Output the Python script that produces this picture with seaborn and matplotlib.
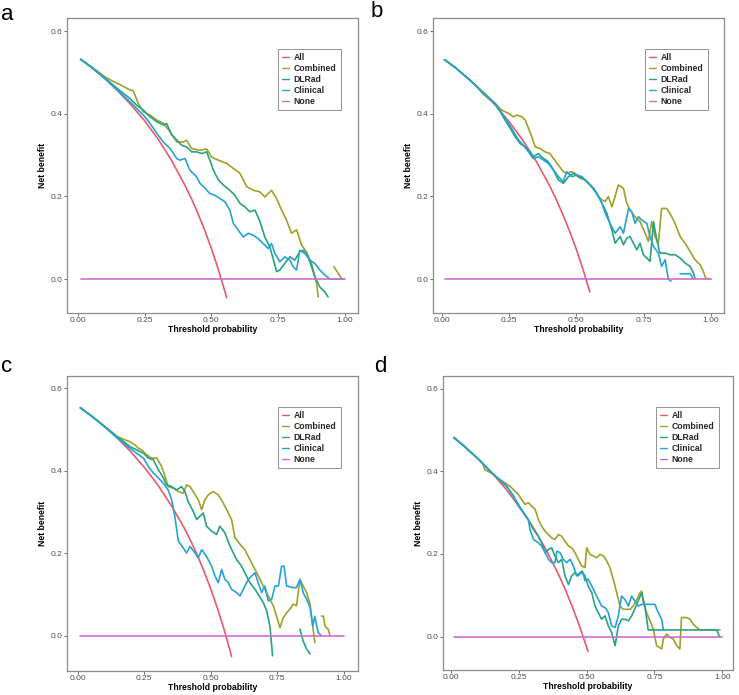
import numpy as np
import pandas as pd
import matplotlib
matplotlib.use("Agg")
import matplotlib.pyplot as plt
from matplotlib.lines import Line2D
import seaborn as sns

sns.set_theme(style="white")
plt.rcParams['font.family'] = ['Liberation Sans', 'DejaVu Sans']

nan = np.nan
MODELS = ["All", "Combined", "DLRad", "Clinical", "None"]
COLORS = ["#E65A6C", "#A0A02A", "#27A383", "#25A3D6", "#CE6DCF"]

# ---------------- panel a ----------------
a_all_x = [0.01, 0.05, 0.10, 0.15, 0.20, 0.25, 0.30, 0.35, 0.40, 0.425, 0.45, 0.475, 0.50, 0.525, 0.55, 0.557]
a_all_y = [0.532, 0.513, 0.486, 0.455, 0.421, 0.383, 0.339, 0.288, 0.228, 0.195, 0.158, 0.118, 0.074, 0.025, -0.029, -0.045]
a_comb_x = [0.01, 0.05, 0.08, 0.10, 0.13, 0.16, 0.18, 0.195, 0.207, 0.226, 0.245, 0.270, 0.295, 0.320, 0.345, 0.370,
            0.395, 0.407, 0.426, 0.457, 0.482, 0.501, 0.526, 0.557, 0.582, 0.607, 0.632, 0.657, 0.682, 0.700, 0.725,
            0.744, 0.763, 0.781, 0.800, 0.819, 0.838, 0.856, 0.875, 0.894, 0.900, 0.93, 0.959, 0.975, 0.987]
a_comb_y = [0.532, 0.514, 0.500, 0.490, 0.479, 0.470, 0.463, 0.458, 0.456, 0.425, 0.405, 0.397, 0.385, 0.377, 0.357, 0.332,
            0.332, 0.336, 0.316, 0.312, 0.315, 0.295, 0.288, 0.280, 0.268, 0.256, 0.224, 0.215, 0.211, 0.199, 0.215,
            0.195, 0.167, 0.143, 0.111, 0.119, 0.082, 0.066, 0.038, -0.010, -0.043, nan, 0.030, 0.014, 0.002]
a_dl_x = [0.01, 0.05, 0.10, 0.15, 0.195, 0.220, 0.245, 0.270, 0.295, 0.320, 0.332, 0.351, 0.370, 0.388, 0.407, 0.426,
          0.444, 0.463, 0.482, 0.494, 0.507, 0.526, 0.544, 0.569, 0.588, 0.607, 0.625, 0.644, 0.663, 0.682, 0.700,
          0.719, 0.731, 0.744, 0.756, 0.775, 0.794, 0.812, 0.831, 0.844, 0.862, 0.875, 0.887, 0.906, 0.925, 0.937]
a_dl_y = [0.532, 0.513, 0.487, 0.460, 0.437, 0.421, 0.409, 0.393, 0.381, 0.373, 0.377, 0.349, 0.337, 0.324, 0.320, 0.308,
          0.308, 0.304, 0.308, 0.288, 0.264, 0.240, 0.228, 0.215, 0.203, 0.183, 0.175, 0.163, 0.167, 0.139, 0.102,
          0.078, 0.050, 0.018, 0.022, 0.038, 0.054, 0.046, 0.066, 0.070, 0.054, 0.030, 0.006, -0.019, -0.031, -0.043]
a_cl_x = [0.01, 0.05, 0.10, 0.15, 0.195, 0.220, 0.245, 0.270, 0.295, 0.320, 0.345, 0.370, 0.382, 0.401, 0.419, 0.444,
          0.457, 0.476, 0.494, 0.513, 0.532, 0.551, 0.569, 0.582, 0.600, 0.619, 0.638, 0.657, 0.675, 0.694, 0.713,
          0.725, 0.738, 0.756, 0.775, 0.794, 0.806, 0.819, 0.831, 0.850, 0.869, 0.887, 0.906, 0.925, 0.944, 0.994]
a_cl_y = [0.532, 0.513, 0.486, 0.456, 0.429, 0.413, 0.397, 0.377, 0.353, 0.332, 0.316, 0.292, 0.288, 0.292, 0.264, 0.248,
          0.232, 0.220, 0.207, 0.203, 0.195, 0.187, 0.167, 0.135, 0.119, 0.102, 0.111, 0.106, 0.098, 0.086, 0.074,
          0.086, 0.062, 0.042, 0.054, 0.046, 0.030, 0.022, 0.070, 0.062, 0.046, 0.038, 0.022, 0.010, 0.0, 0.0]
a_none_x = [0.01, 1.0]
a_none_y = [0.0, 0.0]

# ---------------- panel b ----------------
b_all_x = [0.01, 0.05, 0.10, 0.15, 0.20, 0.25, 0.30, 0.35, 0.40, 0.425, 0.45, 0.475, 0.50, 0.525, 0.55]
b_all_y = [0.531, 0.512, 0.484, 0.454, 0.420, 0.381, 0.337, 0.286, 0.227, 0.193, 0.156, 0.116, 0.072, 0.023, -0.031]
b_comb_x = [0.01, 0.05, 0.10, 0.13, 0.15, 0.175, 0.198, 0.223, 0.248, 0.266, 0.279, 0.297, 0.310, 0.322, 0.334, 0.347,
            0.365, 0.384, 0.402, 0.415, 0.433, 0.452, 0.464, 0.483, 0.495, 0.514, 0.533, 0.551, 0.570, 0.582, 0.595,
            0.607, 0.619, 0.632, 0.644, 0.656, 0.675, 0.687, 0.700, 0.718, 0.737, 0.756, 0.768, 0.780, 0.793, 0.805,
            0.817, 0.836, 0.848, 0.867, 0.886, 0.904, 0.923, 0.941, 0.960, 0.972, 0.981, 1.0]
b_comb_y = [0.531, 0.512, 0.484, 0.466, 0.450, 0.436, 0.425, 0.409, 0.401, 0.393, 0.397, 0.393, 0.385, 0.365, 0.345, 0.320,
            0.316, 0.308, 0.304, 0.292, 0.276, 0.260, 0.256, 0.260, 0.256, 0.244, 0.240, 0.228, 0.212, 0.200, 0.192,
            0.188, 0.200, 0.175, 0.200, 0.228, 0.220, 0.184, 0.167, 0.151, 0.139, 0.111, 0.091, 0.139, 0.103, 0.087,
            0.171, 0.171, 0.159, 0.135, 0.103, 0.087, 0.067, 0.047, 0.035, 0.019, 0.002, 0.0]
b_dl_x = [0.01, 0.05, 0.10, 0.15, 0.198, 0.217, 0.235, 0.254, 0.272, 0.291, 0.310, 0.328, 0.340, 0.359, 0.378, 0.396,
          0.415, 0.433, 0.452, 0.471, 0.489, 0.508, 0.526, 0.545, 0.564, 0.582, 0.595, 0.613, 0.632, 0.644, 0.663,
          0.675, 0.687, 0.700, 0.712, 0.725, 0.737, 0.749, 0.762, 0.774, 0.787, 0.799, 0.811, 0.830, 0.848, 0.867,
          0.886, 0.904, 0.923, 0.935, 0.941]
b_dl_y = [0.531, 0.512, 0.484, 0.454, 0.425, 0.405, 0.385, 0.365, 0.345, 0.328, 0.320, 0.308, 0.296, 0.304, 0.292, 0.284,
          0.264, 0.240, 0.232, 0.248, 0.256, 0.248, 0.244, 0.232, 0.220, 0.200, 0.184, 0.160, 0.119, 0.087, 0.103,
          0.083, 0.099, 0.103, 0.087, 0.071, 0.087, 0.059, 0.051, 0.043, 0.139, 0.095, 0.063, 0.063, 0.059, 0.059,
          0.051, 0.039, 0.031, 0.015, 0.002]
b_cl_x = [0.01, 0.05, 0.10, 0.15, 0.198, 0.223, 0.248, 0.266, 0.285, 0.303, 0.322, 0.340, 0.359, 0.378, 0.396, 0.415,
          0.433, 0.452, 0.464, 0.483, 0.502, 0.520, 0.539, 0.557, 0.576, 0.595, 0.607, 0.625, 0.644, 0.663, 0.675,
          0.694, 0.706, 0.718, 0.731, 0.743, 0.762, 0.774, 0.787, 0.805, 0.817, 0.830, 0.842, 0.852, 0.87, 0.886,
          0.923, 0.935]
b_cl_y = [0.531, 0.512, 0.484, 0.454, 0.425, 0.401, 0.377, 0.357, 0.337, 0.324, 0.308, 0.292, 0.296, 0.288, 0.280, 0.264,
          0.248, 0.236, 0.260, 0.248, 0.252, 0.248, 0.236, 0.224, 0.208, 0.184, 0.160, 0.135, 0.111, 0.127, 0.111,
          0.171, 0.163, 0.135, 0.151, 0.143, 0.135, 0.103, 0.079, 0.063, 0.031, 0.047, 0.0, -0.005, nan, 0.013,
          0.013, 0.0]
b_none_x = [0.01, 1.0]
b_none_y = [0.0, 0.0]

# ---------------- panel c ----------------
c_all_x = [0.01, 0.05, 0.10, 0.15, 0.20, 0.25, 0.30, 0.35, 0.40, 0.425, 0.45, 0.475, 0.50, 0.525, 0.55, 0.575, 0.578]
c_all_y = [0.553, 0.534, 0.508, 0.479, 0.446, 0.409, 0.367, 0.318, 0.262, 0.230, 0.195, 0.156, 0.114, 0.067, 0.016, -0.042, -0.050]
c_comb_x = [0.01, 0.05, 0.10, 0.15, 0.175, 0.196, 0.215, 0.228, 0.240, 0.259, 0.278, 0.297, 0.315, 0.328, 0.340, 0.359,
            0.378, 0.397, 0.409, 0.422, 0.434, 0.453, 0.466, 0.478, 0.491, 0.509, 0.528, 0.547, 0.566, 0.578, 0.591,
            0.610, 0.628, 0.647, 0.666, 0.685, 0.697, 0.710, 0.722, 0.735, 0.747, 0.760, 0.772, 0.785, 0.797, 0.810,
            0.822, 0.835, 0.847, 0.860, 0.873, 0.883, 0.891, 0.90, 0.916, 0.923, 0.929, 0.941, 0.948]
c_comb_y = [0.553, 0.534, 0.509, 0.483, 0.476, 0.471, 0.463, 0.455, 0.451, 0.439, 0.431, 0.431, 0.411, 0.387, 0.362, 0.358,
            0.350, 0.346, 0.366, 0.362, 0.350, 0.330, 0.306, 0.330, 0.342, 0.350, 0.342, 0.322, 0.298, 0.282, 0.238,
            0.222, 0.209, 0.185, 0.161, 0.137, 0.121, 0.105, 0.089, 0.073, 0.048, 0.020, 0.044, 0.056, 0.065, 0.077,
            0.073, 0.137, 0.121, 0.105, 0.077, 0.024, -0.016, nan, 0.048, 0.048, 0.024, 0.016, 0.0]
c_dl_x = [0.01, 0.05, 0.10, 0.15, 0.175, 0.196, 0.221, 0.247, 0.265, 0.284, 0.303, 0.322, 0.334, 0.353, 0.372, 0.390,
          0.403, 0.415, 0.434, 0.447, 0.459, 0.472, 0.484, 0.503, 0.522, 0.534, 0.553, 0.572, 0.585, 0.597, 0.616,
          0.628, 0.647, 0.666, 0.678, 0.697, 0.710, 0.722, 0.729, 0.732, 0.78, 0.835, 0.847, 0.860, 0.873]
c_dl_y = [0.553, 0.534, 0.508, 0.481, 0.470, 0.459, 0.451, 0.443, 0.431, 0.427, 0.403, 0.383, 0.366, 0.362, 0.354, 0.362,
          0.350, 0.326, 0.302, 0.282, 0.290, 0.298, 0.266, 0.254, 0.246, 0.266, 0.250, 0.218, 0.201, 0.185, 0.169,
          0.153, 0.129, 0.113, 0.101, 0.081, 0.061, 0.024, -0.024, -0.048, nan, 0.016, -0.012, -0.032, -0.044]
c_cl_x = [0.01, 0.05, 0.10, 0.15, 0.175, 0.196, 0.221, 0.247, 0.265, 0.284, 0.303, 0.322, 0.340, 0.353, 0.365, 0.378,
          0.397, 0.409, 0.422, 0.441, 0.453, 0.466, 0.484, 0.503, 0.516, 0.528, 0.541, 0.553, 0.566, 0.578, 0.597,
          0.610, 0.628, 0.641, 0.653, 0.666, 0.678, 0.691, 0.703, 0.716, 0.729, 0.741, 0.754, 0.766, 0.775, 0.785,
          0.810, 0.822, 0.835, 0.847, 0.860, 0.873, 0.883, 0.891, 0.898, 0.904, 0.916]
c_cl_y = [0.553, 0.534, 0.508, 0.479, 0.466, 0.455, 0.443, 0.431, 0.411, 0.395, 0.383, 0.370, 0.354, 0.330, 0.290, 0.230,
          0.213, 0.201, 0.217, 0.201, 0.189, 0.209, 0.193, 0.169, 0.145, 0.129, 0.161, 0.137, 0.129, 0.113, 0.105,
          0.097, 0.121, 0.137, 0.145, 0.153, 0.129, 0.105, 0.121, 0.085, 0.089, 0.121, 0.121, 0.169, 0.169, 0.121,
          0.117, 0.117, 0.137, 0.105, 0.089, 0.069, 0.024, 0.048, 0.024, 0.008, 0.0]
c_none_x = [0.01, 1.0]
c_none_y = [0.0, 0.0]

# ---------------- panel d ----------------
d_all_x = [0.01, 0.05, 0.10, 0.15, 0.20, 0.25, 0.30, 0.35, 0.40, 0.425, 0.45, 0.475, 0.50, 0.505]
d_all_y = [0.482, 0.460, 0.430, 0.397, 0.359, 0.316, 0.267, 0.211, 0.145, 0.108, 0.067, 0.023, -0.026, -0.036]
d_comb_x = [0.01, 0.05, 0.10, 0.115, 0.125, 0.15, 0.165, 0.181, 0.199, 0.217, 0.236, 0.248, 0.260, 0.273, 0.285, 0.297,
            0.310, 0.316, 0.322, 0.334, 0.347, 0.359, 0.371, 0.383, 0.396, 0.408, 0.420, 0.433, 0.445, 0.457, 0.469,
            0.482, 0.494, 0.500, 0.512, 0.525, 0.537, 0.549, 0.562, 0.574, 0.586, 0.598, 0.611, 0.623, 0.635, 0.648,
            0.660, 0.672, 0.685, 0.697, 0.703, 0.709, 0.721, 0.734, 0.746, 0.758, 0.777, 0.783, 0.795, 0.807, 0.820,
            0.832, 0.844, 0.850, 0.869, 0.881, 0.893, 0.906, 0.918, 0.992]
d_comb_y = [0.482, 0.460, 0.430, 0.421, 0.404, 0.395, 0.387, 0.380, 0.372, 0.364, 0.352, 0.344, 0.332, 0.320, 0.324, 0.316,
            0.308, 0.296, 0.283, 0.267, 0.255, 0.247, 0.239, 0.235, 0.247, 0.243, 0.231, 0.219, 0.215, 0.203, 0.187,
            0.171, 0.167, 0.215, 0.199, 0.195, 0.191, 0.199, 0.195, 0.183, 0.167, 0.139, 0.106, 0.074, 0.066, 0.066,
            0.066, 0.074, 0.090, 0.106, 0.110, 0.082, 0.058, 0.038, 0.018, -0.022, -0.030, -0.006, 0.006, -0.002, -0.006,
            -0.022, -0.030, 0.046, 0.046, 0.042, 0.030, 0.022, 0.016, 0.016]
d_dl_x = [0.01, 0.05, 0.10, 0.15, 0.181, 0.205, 0.230, 0.248, 0.267, 0.285, 0.304, 0.322, 0.334, 0.347, 0.359, 0.371,
          0.383, 0.396, 0.408, 0.420, 0.433, 0.445, 0.457, 0.469, 0.482, 0.494, 0.506, 0.519, 0.531, 0.543, 0.555,
          0.568, 0.580, 0.592, 0.605, 0.617, 0.629, 0.641, 0.654, 0.666, 0.685, 0.703, 0.715, 0.727, 0.980, 0.990]
d_dl_y = [0.482, 0.460, 0.430, 0.397, 0.378, 0.364, 0.340, 0.320, 0.300, 0.283, 0.259, 0.243, 0.227, 0.203, 0.211, 0.215,
          0.195, 0.179, 0.187, 0.147, 0.126, 0.147, 0.155, 0.147, 0.159, 0.147, 0.122, 0.106, 0.074, 0.058, 0.042,
          0.050, 0.026, 0.010, -0.022, 0.026, 0.042, 0.042, 0.038, 0.050, 0.078, 0.106, 0.074, 0.016, 0.016, 0.0]
d_cl_x = [0.01, 0.05, 0.10, 0.15, 0.181, 0.205, 0.230, 0.248, 0.267, 0.285, 0.291, 0.304, 0.322, 0.334, 0.347, 0.359,
          0.371, 0.383, 0.390, 0.402, 0.414, 0.426, 0.439, 0.451, 0.463, 0.476, 0.488, 0.494, 0.506, 0.519, 0.531,
          0.543, 0.555, 0.568, 0.580, 0.592, 0.605, 0.617, 0.629, 0.641, 0.654, 0.666, 0.678, 0.691, 0.703, 0.752,
          0.764, 0.777, 0.783]
d_cl_y = [0.482, 0.460, 0.430, 0.397, 0.378, 0.364, 0.340, 0.316, 0.300, 0.283, 0.259, 0.235, 0.227, 0.219, 0.203, 0.187,
          0.179, 0.179, 0.207, 0.203, 0.187, 0.179, 0.187, 0.171, 0.147, 0.155, 0.151, 0.135, 0.139, 0.122, 0.106,
          0.090, 0.074, 0.070, 0.058, 0.026, 0.022, 0.050, 0.098, 0.090, 0.074, 0.098, 0.086, 0.074, 0.078, 0.078,
          0.058, 0.042, 0.016]
d_none_x = [0.01, 0.998]
d_none_y = [0.0, 0.0]

PANELS = {
    "a": [(a_all_x, a_all_y), (a_comb_x, a_comb_y), (a_dl_x, a_dl_y), (a_cl_x, a_cl_y), (a_none_x, a_none_y)],
    "b": [(b_all_x, b_all_y), (b_comb_x, b_comb_y), (b_dl_x, b_dl_y), (b_cl_x, b_cl_y), (b_none_x, b_none_y)],
    "c": [(c_all_x, c_all_y), (c_comb_x, c_comb_y), (c_dl_x, c_dl_y), (c_cl_x, c_cl_y), (c_none_x, c_none_y)],
    "d": [(d_all_x, d_all_y), (d_comb_x, d_comb_y), (d_dl_x, d_dl_y), (d_cl_x, d_cl_y), (d_none_x, d_none_y)],
}

W, H = 739, 695
fig = plt.figure(figsize=(W / 100, H / 100), dpi=100)

# axes boxes in pixels: left, top, right, bottom
BOX = {"a": (67, 18, 358, 313), "b": (433, 18, 724, 313),
       "c": (67, 376, 358, 671), "d": (443, 376, 733, 670)}
XLIM = {"a": (-0.041, 1.049), "b": (-0.033, 1.049), "c": (-0.040, 1.053), "d": (-0.030, 1.040)}
YLIM = {"a": (-0.082, 0.632), "b": (-0.082, 0.632), "c": (-0.085, 0.630), "d": (-0.081, 0.631)}
LETTER_POS = {"a": (1, 4), "b": (371, 1), "c": (1, 356), "d": (374, 356)}
LEG_POS = {"a": (278, 49), "b": (645, 49), "c": (278, 407), "d": (656, 407)}

for key, series in PANELS.items():
    l, t, r, b = BOX[key]
    ax = fig.add_axes([l / W, 1 - b / H, (r - l) / W, (b - t) / H])
    rows = []
    for model, (xs, ys) in zip(MODELS, series):
        seg = 0
        for xv, yv in zip(xs, ys):
            if yv is None or (isinstance(yv, float) and np.isnan(yv)):
                seg += 1
                continue
            rows.append({"x": xv, "nb": yv, "model": model, "seg": f"{model}-{seg}"})
    df = pd.DataFrame(rows)
    sns.lineplot(data=df, x="x", y="nb", hue="model", hue_order=MODELS, palette=COLORS,
                 units="seg", estimator=None, sort=False, legend=False, linewidth=1.2, ax=ax)
    ax.set_xlim(*XLIM[key])
    ax.set_ylim(*YLIM[key])
    ax.set_xticks([0, 0.25, 0.5, 0.75, 1.0])
    ax.set_xticklabels(["0.00", "0.25", "0.50", "0.75", "1.00"])
    ax.set_yticks([0.0, 0.2, 0.4, 0.6])
    ax.set_yticklabels(["0.0", "0.2", "0.4", "0.6"])
    ax.tick_params(axis="both", labelsize=6.0, labelcolor="#4D4D4D", color="#555555",
                   length=2, width=0.6, pad=1.2, bottom=True, left=True)
    ax.set_xlabel("Threshold probability", fontsize=6.2, fontweight="bold", color="black", labelpad=0.3)
    ax.set_ylabel("Net benefit", fontsize=6.2, fontweight="bold", color="black", labelpad=3)
    for sp in ax.spines.values():
        sp.set_color("#8C8C8C")
        sp.set_linewidth(0.9)
    ax.grid(False)
    ax.set_facecolor("white")

    handles = [Line2D([0], [0], color=c, lw=1.0) for c in COLORS]
    lx, ly = LEG_POS[key]
    leg = ax.legend(handles, MODELS, loc="upper left",
                    bbox_to_anchor=((lx - l) / (r - l), 1 - (ly - t) / (b - t)),
                    borderaxespad=0, frameon=True, fancybox=False,
                    prop={"weight": "bold", "size": 6.2},
                    handlelength=0.8, handletextpad=0.5, labelspacing=0.22, borderpad=0.5)
    leg.get_frame().set_edgecolor("#777777")
    leg.get_frame().set_linewidth(0.7)

    px, py = LETTER_POS[key]
    fig.text(px / W, 1 - py / H, key, fontsize=16, ha="left", va="top", color="black")

fig.savefig("out.png", dpi=100, facecolor="white")
